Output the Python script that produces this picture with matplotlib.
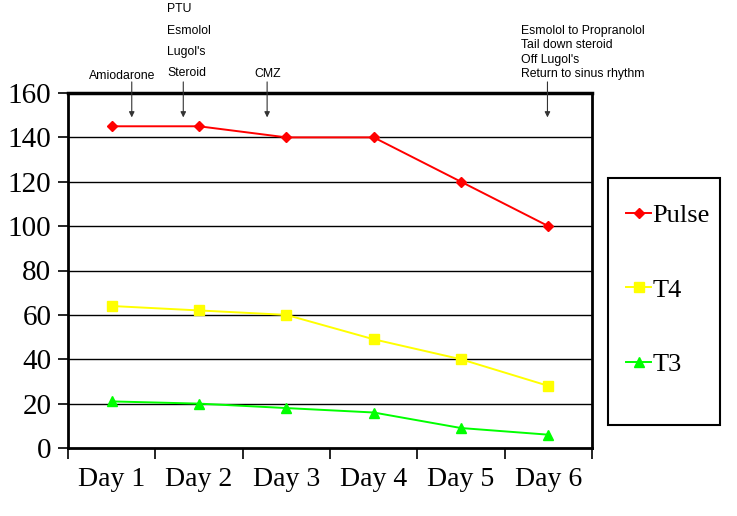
import numpy as np
import matplotlib as mpl
mpl.use("Agg")
import matplotlib.pyplot as plt
from matplotlib.patches import Rectangle

days = ["Day 1", "Day 2", "Day 3", "Day 4", "Day 5", "Day 6"]
pulse = [145, 145, 140, 140, 120, 100]
t4 = [64, 62, 60, 49, 40, 28]
t3 = [21, 20, 18, 16, 9, 6]

# event arrows, in day-index units
events_x = [0.23, 0.82, 1.78, 4.99]

SERIF = ["Liberation Serif", "DejaVu Serif"]
SANS = ["Liberation Sans", "DejaVu Sans"]

fig = plt.figure(figsize=(7.37, 5.16), dpi=100)
ax = fig.add_axes([68 / 737, 1 - 448 / 516, (592 - 68) / 737, (448 - 93) / 516])

x = np.arange(len(days))
ax.plot(x, pulse, "-D", color="#FF0000", ms=5, lw=1.4, label="Pulse")
ax.plot(x, t4, "-s", color="#FFFF00", ms=7, lw=1.4, label="T4")
ax.plot(x, t3, "-^", color="#00FF00", ms=7, lw=1.4, label="T3")

ax.set_xlim(-0.5, 5.5)
ax.set_ylim(0, 160)
ax.set_yticks(range(0, 161, 20))
for yv in range(20, 160, 20):
    ax.axhline(yv, color="black", lw=1.0, zorder=0)
ax.set_xticks(x)
ax.set_xticklabels(days, family=SERIF, fontsize=20)
ax.set_xticks(np.arange(-0.5, 6, 1), minor=True)
ax.tick_params(axis="x", which="major", length=0, pad=14)
ax.tick_params(axis="x", which="minor", length=8, width=1.2, direction="out")
ax.tick_params(axis="y", length=7, width=1.2, direction="out", pad=5)
for lab in ax.get_yticklabels():
    lab.set(family=SERIF, fontsize=21)
for s in ax.spines.values():
    s.set_linewidth(2.0)
ax.spines["top"].set_linewidth(2.5)

for ex in events_x:
    ax.annotate("", xy=(ex, 149), xytext=(ex, 165), annotation_clip=False,
                arrowprops=dict(arrowstyle="-|>", color="#333333", lw=0.8,
                                mutation_scale=8, shrinkA=0, shrinkB=0))

FS = 8.8
fig.text(122 / 737, 1 - 76 / 516, "Amiodarone", family=SANS, fontsize=FS, ha="center", va="center")
for i, t in enumerate(["PTU", "Esmolol", "Lugol's", "Steroid"]):
    fig.text(167 / 737, 1 - (9 + 21.5 * i) / 516, t, family=SANS, fontsize=FS, ha="left", va="center")
fig.text(268 / 737, 1 - 74 / 516, "CMZ", family=SANS, fontsize=FS, ha="center", va="center")
for i, t in enumerate(["Esmolol to Propranolol", "Tail down steroid", "Off Lugol's", "Return to sinus rhythm"]):
    fig.text(521 / 737, 1 - (31 + 14.3 * i) / 516, t, family=SANS, fontsize=FS, ha="left", va="center")

# legend box
fig.patches.append(Rectangle((608 / 737, 1 - 425 / 516), 112 / 737, 247 / 516,
                             transform=fig.transFigure, fill=False, ec="black", lw=1.5))
fig.legend(loc="upper left", bbox_to_anchor=(626 / 737, 1 - 204 / 516), frameon=False,
           prop={"family": SERIF, "size": 19}, labelspacing=1.92,
           handlelength=0.95, handletextpad=0.05, borderpad=0, borderaxespad=0)

fig.savefig("out.png", dpi=100)
